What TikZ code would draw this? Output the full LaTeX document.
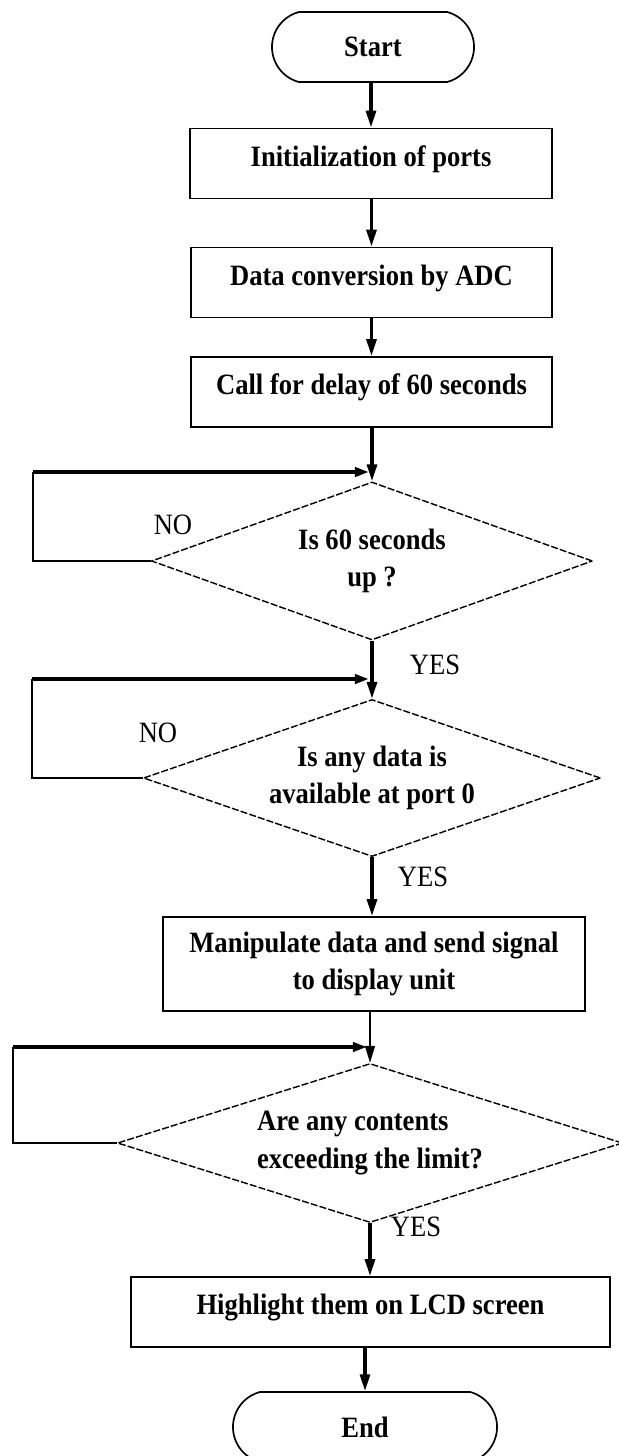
\documentclass[tikz,border=0pt]{standalone}
\usepackage{fontspec}
\newfontfamily\chartfont[FakeStretch=0.9]{Liberation Serif}
\usepackage{tikz}
\usetikzlibrary{shapes.geometric,shapes.misc,arrows.meta}
\newcommand{\flowfont}{\chartfont\bfseries\fontsize{21}{26.5}\selectfont}
\newcommand{\branchfont}{\chartfont\fontsize{21}{25}\selectfont}

\begin{document}
\begin{tikzpicture}[x=0.025cm, y=-0.025cm,
    termbox/.style={draw, line width=1.2pt, rounded rectangle, rounded rectangle arc length=150,
        minimum height=1.75cm, inner sep=0pt, font=\flowfont},
    procbox/.style={draw, line width=1.3pt, rectangle, minimum height=1.75cm, inner sep=0pt,
        font=\flowfont, align=center},
    oneline/.style={text height=16pt, text depth=12pt},
    decbox/.style={draw, line width=1pt, dash pattern=on 5pt off 1.5pt, diamond,
        inner sep=0pt, font=\flowfont, align=center},
    flowarrow/.style={line width=2.4pt, -{Triangle[length=12pt,width=7pt]}},
    thinarrow/.style={line width=1.2pt, -{Triangle[length=12pt,width=7pt]}},
    loopline/.style={line width=1.2pt},
    looptop/.style={line width=2.6pt, -{Triangle[length=10pt,width=6.5pt]}},
    branchlabel/.style={font=\branchfont, inner sep=0pt}]

    \useasboundingbox (0,0) rectangle (619,1456);

    % Main column of steps
    \node[termbox, minimum width=5.05cm] (start) at (373,47) {Start};
    \node[procbox, oneline, minimum width=9.05cm] (init) at (371,163.5) {Initialization of ports};
    \node[procbox, oneline, minimum width=9.025cm] (adc) at (371.5,282.5) {Data conversion by ADC};
    \node[procbox, oneline, minimum width=9.025cm] (delay) at (371.5,392) {Call for delay of 60 seconds};
    \node[decbox, aspect=2.79, minimum width=11.025cm, minimum height=3.95cm] (timeup) at (372,561)
        {Is 60 seconds\\up ?};
    \node[decbox, aspect=2.91, minimum width=11.425cm, minimum height=3.925cm] (dataok) at (372,778)
        {Is any data is\\available at port 0};
    \node[procbox, minimum width=10.55cm, minimum height=2.35cm] (manip) at (374,964)
        {Manipulate data and send signal\\to display unit};
    \node[decbox, aspect=3.18, minimum width=12.625cm, minimum height=3.975cm, align=left] (limit) at (370,1143)
        {Are any contents\\exceeding the limit?};
    \node[procbox, oneline, minimum width=11.975cm] (lcd) at (370.5,1312) {Highlight them on LCD screen};
    \node[termbox, minimum width=6.6cm] (finish) at (365,1427) {End};

    % Branch labels
    \node[branchlabel] (no1) at (173,525) {NO};
    \node[branchlabel] (no2) at (158,733) {NO};
    \node[branchlabel] (yes1) at (435,665) {YES};
    \node[branchlabel] (yes2) at (423,877) {YES};
    \node[branchlabel] (yes3) at (416,1227) {YES};

    % Forward arrows
    \draw[flowarrow] (init.north |- start.south) -- (init.north);
    \draw[flowarrow] (adc.north |- init.south) -- (adc.north);
    \draw[flowarrow] (delay.north |- adc.south) -- (delay.north);
    \draw[flowarrow] (timeup.north |- delay.south) -- (timeup.north);
    \draw[flowarrow] (timeup.south) -- (dataok.north);
    \draw[flowarrow] (dataok.south) -- (dataok.south |- manip.north);
    \draw[thinarrow] (limit.north |- manip.south) -- (limit.north);
    \draw[flowarrow] (limit.south) -- (limit.south |- lcd.north);
    \draw[flowarrow] (finish.north |- lcd.south) -- (finish.north);

    % NO loops back to the top of each test
    \coordinate (ret1) at (33,472);
    \coordinate (join1) at (369,472);
    \draw[loopline] (timeup.west) -| (ret1);
    \draw[looptop] (ret1) -- (join1);

    \coordinate (ret2) at (32,679);
    \coordinate (join2) at (369,679);
    \draw[loopline] (dataok.west) -| (ret2);
    \draw[looptop] (ret2) -- (join2);

    \coordinate (ret3) at (13,1047);
    \coordinate (join3) at (367,1047);
    \draw[loopline] (limit.west) -| (ret3);
    \draw[looptop] (ret3) -- (join3);
\end{tikzpicture}
\end{document}
